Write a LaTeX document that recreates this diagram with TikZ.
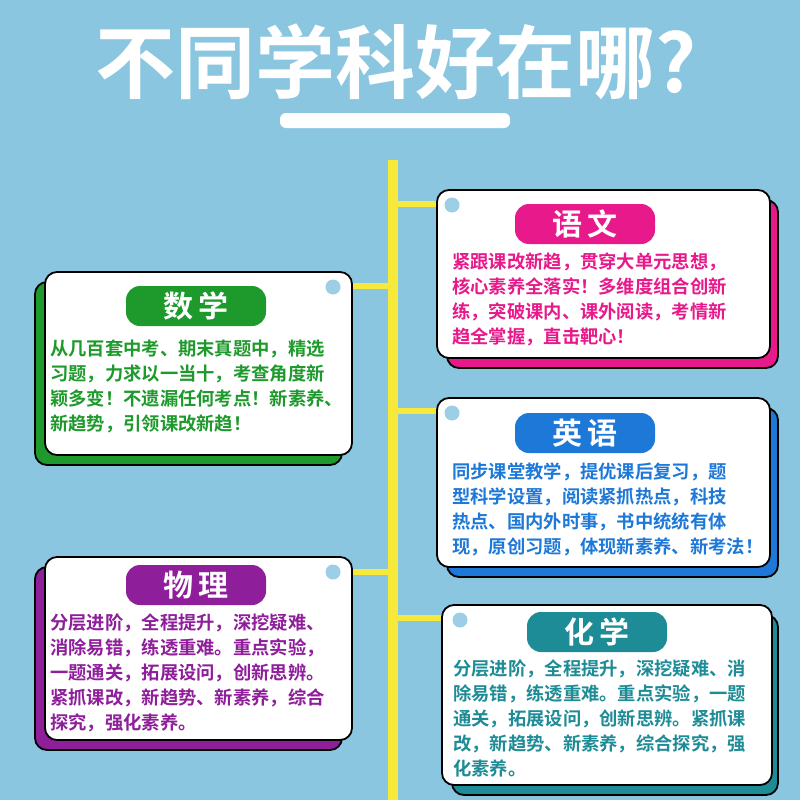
\documentclass[tikz,border=0pt]{standalone}
\usepackage{fontspec}
\newfontfamily\cjk{Noto Sans CJK SC Bold}
\usetikzlibrary{positioning}
\definecolor{bgblue}{HTML}{8AC6E0}
\definecolor{ylw}{HTML}{F7E93A}
\definecolor{cgreen}{HTML}{1E9A2C}
\definecolor{cmag}{HTML}{E8198B}
\definecolor{cblue}{HTML}{1E78D8}
\definecolor{cpurple}{HTML}{8E1E9A}
\definecolor{cteal}{HTML}{1E8C96}
\definecolor{dotblue}{HTML}{9CCFE6}
\tikzset{
  card/.style={draw=black,line width=1.8pt,fill=white,rounded corners=12pt},
  shade/.style={draw=black,line width=1.8pt,fill=#1,rounded corners=12pt},
  pill/.style={fill=#1,rounded corners=14pt,minimum width=140pt,minimum height=40pt,text=white,font=\cjk\fontsize{30}{30}\selectfont},
  body/.style={anchor=north west,inner sep=0pt,text=#1,font=\cjk\fontsize{18.3}{25}\selectfont,align=left},
  dot/.style={fill=dotblue,circle,inner sep=0pt,minimum size=15pt}
}
\begin{document}
\begin{tikzpicture}[x=1pt,y=-1pt]
\fill[bgblue] (0,0) rectangle (800,800);
\useasboundingbox (0,0) rectangle (800,800);
% title
\node[text=white,font=\cjk\fontsize{80}{80}\selectfont] (title) at (396,62) {不同学科好在哪?};
\fill[white,rounded corners=6pt] (280,113) rectangle (510,128);
% yellow spine and branches
\fill[ylw] (388,160) rectangle (398,800);
\fill[ylw] (398,201) rectangle (440,207);
\fill[ylw] (350,283) rectangle (388,289);
\fill[ylw] (398,408) rectangle (440,414);
\fill[ylw] (350,569) rectangle (388,575);
\fill[ylw] (398,615) rectangle (444,621);
% 语文
\draw[shade=cmag] (447,200) rectangle (778,368);
\draw[card] (437,190) rectangle (770,358);
\node[dot] (d1) at (452,205) {};
\node[pill=cmag] (p1) at (585,224) {语\,文};
\node[body=cmag] (t1) at (452,253) {紧跟课改新趋，贯穿大单元思想，\\核心素养全落实！多维度组合创新\\练，突破课内、课外阅读，考情新\\趋全掌握，直击靶心！};
% 数学
\draw[shade=cgreen] (35,282) rectangle (342,465);
\draw[card] (45,272) rectangle (352,455);
\node[dot] (d2) at (333,287) {};
\node[pill=cgreen] (p2) at (196,306) {数\,学};
\node[body=cgreen] (t2) at (50,340) {从几百套中考、期末真题中，精选\\习题，力求以一当十，考查角度新\\颖多变！不遗漏任何考点！新素养、\\新趋势，引领课改新趋！};
% 英语
\draw[shade=cblue] (447,408) rectangle (778,577);
\draw[card] (437,398) rectangle (770,567);
\node[dot] (d3) at (452,413) {};
\node[pill=cblue] (p3) at (585,433) {英\,语};
\node[body=cblue] (t3) at (452,463) {同步课堂教学，提优课后复习，题\\型科学设置，阅读紧抓热点，科技\\热点、国内外时事，书中统统有体\\现，原创习题，体现新素养、新考法！};
% 物理
\draw[shade=cpurple] (35,567) rectangle (342,750);
\draw[card] (45,557) rectangle (352,740);
\node[dot] (d4) at (333,572) {};
\node[pill=cpurple] (p4) at (196,585) {物\,理};
\node[body=cpurple] (t4) at (50,614) {分层进阶，全程提升，深挖疑难、\\消除易错，练透重难。重点实验，\\一题通关，拓展设问，创新思辨。\\紧抓课改，新趋势、新素养，综合\\探究，强化素养。};
% 化学
\draw[shade=cteal] (452,615) rectangle (778,795);
\draw[card] (442,605) rectangle (772,785);
\node[dot] (d5) at (460,620) {};
\node[pill=cteal] (p5) at (597,632) {化\,学};
\node[body=cteal] (t5) at (453,660) {分层进阶，全程提升，深挖疑难、消\\除易错，练透重难。重点实验，一题\\通关，拓展设问，创新思辨。紧抓课\\改，新趋势、新素养，综合探究，强\\化素养。};
\end{tikzpicture}
\end{document}
